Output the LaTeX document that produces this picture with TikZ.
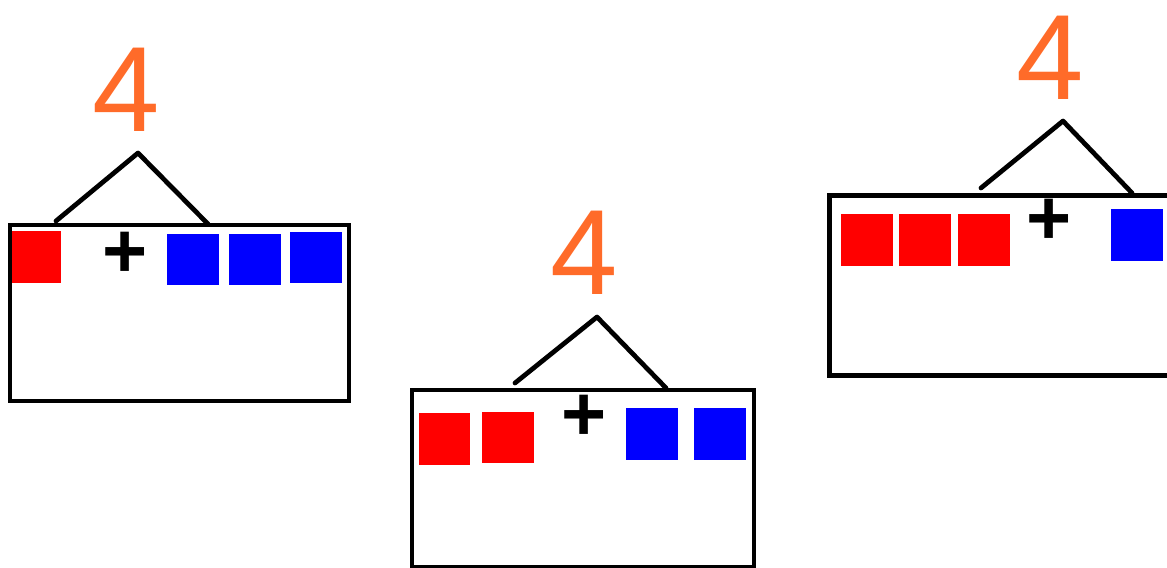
\documentclass[tikz,border=0pt]{standalone}
\usepackage{fontspec}
\setmainfont{Liberation Sans}
\usepackage{tikz}
\usetikzlibrary{positioning}
\definecolor{naranja}{rgb}{1.00,0.42,0.16}
\definecolor{rojo}{rgb}{1,0,0}
\definecolor{azul}{rgb}{0,0,1}
\tikzset{
  marco/.style={
    draw=black,
    line width=2.7pt
  },
  ficha/.style={
    minimum size=1.04cm,
    inner sep=0pt
  },
  ficharoja/.style={
    ficha,
    fill=rojo
  },
  fichaazul/.style={
    ficha,
    fill=azul
  },
  mas/.style={
    inner sep=0pt,
    font=\fontsize{44}{44}\selectfont\bfseries
  },
  total/.style={
    inner sep=0pt,
    text=naranja,
    font=\fontsize{69}{69}\selectfont
  },
  tejado/.style={
    line width=2.7pt,
    line cap=round,
    line join=round
  }
}

\begin{document}
\begin{tikzpicture}[x=0.02cm,y=-0.02cm]
\clip (0,0) rectangle (1167,568);
% primer marco: 1 + 3
\node[ficharoja] (ar1) at (35,257) {};
\node[fichaazul] (aa1) at (193,259.5) {};
\node[fichaazul,right=.18cm of aa1] (aa2) {};
\node[fichaazul,right=.18cm of aa2,yshift=.04cm] (aa3) {};
\draw[marco] (10,225) rectangle (349,401);
\node[mas] (amas) at (125,255) {+};
\node[total] (atot) at (126.5,89.5) {4};
\coordinate (ai) at (56,221);
\coordinate (at) at (138,153);
\coordinate (ad) at (208,224);
\draw[tejado] (ai) -- (at) -- (ad);
% segundo marco: 2 + 2
\node[ficharoja] (br1) at (444.5,439) {};
\node[ficharoja,right=.22cm of br1,yshift=.03cm] (br2) {};
\node[fichaazul] (ba1) at (652,434) {};
\node[fichaazul,right=.3cm of ba1] (ba2) {};
\draw[marco] (412,390) rectangle (754,567);
\node[mas] (bmas) at (584,418) {+};
\node[total] (btot) at (584.5,253) {4};
\coordinate (bi) at (515,383);
\coordinate (bt) at (597,317);
\coordinate (bd) at (666,388);
\draw[tejado] (bi) -- (bt) -- (bd);
% tercer marco: 3 + 1
\node[ficharoja] (cr1) at (866.5,240) {};
\node[ficharoja,right=.12cm of cr1] (cr2) {};
\node[ficharoja,right=.12cm of cr2] (cr3) {};
\node[fichaazul] (ca1) at (1137,235) {};
\draw[marco] (829.5,195.5) rectangle (1190,375.5);
\node[mas] (cmas) at (1049,222) {+};
\node[total] (ctot) at (1050,57.5) {4};
\coordinate (ci) at (981,188);
\coordinate (ct) at (1063,121);
\coordinate (cd) at (1132,193);
\draw[tejado] (ci) -- (ct) -- (cd);
\end{tikzpicture}
\end{document}
